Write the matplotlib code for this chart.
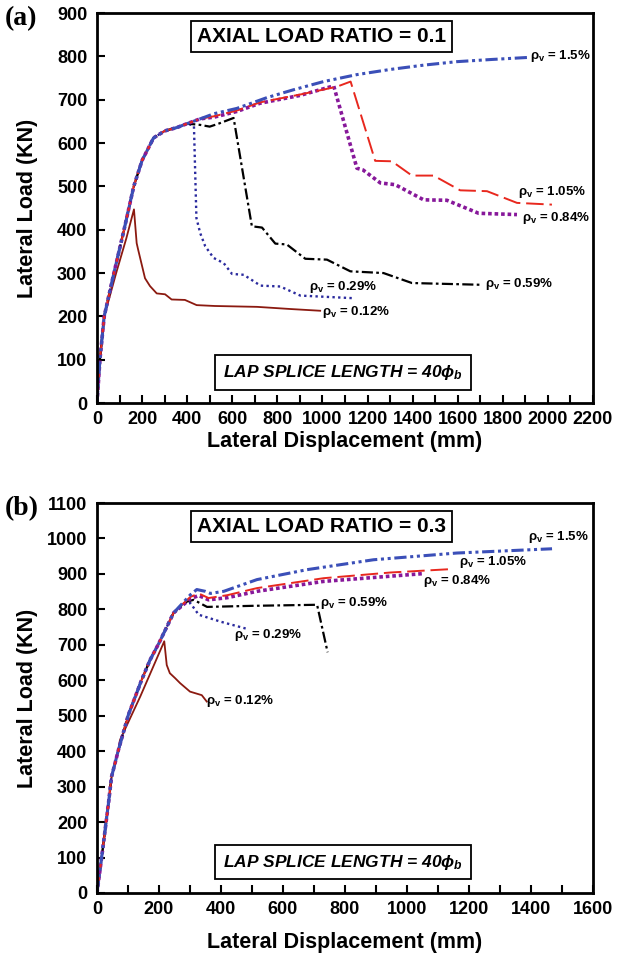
import matplotlib
matplotlib.use("Agg")
import matplotlib.pyplot as plt
from matplotlib.ticker import MultipleLocator

plt.rcParams['font.family'] = ['Liberation Sans', 'DejaVu Sans']
plt.rcParams['font.weight'] = 'bold'
plt.rcParams['mathtext.fontset'] = 'custom'
plt.rcParams['mathtext.rm'] = 'Liberation Sans:bold'
plt.rcParams['mathtext.it'] = 'Liberation Sans:bold:italic'
plt.rcParams['mathtext.bf'] = 'Liberation Sans:bold'

# ---- panel (a) : axial load ratio 0.1 ----
base_a_x = [0, 13, 32, 75, 120, 163, 200, 251, 300, 355, 400, 458]
base_a_y = [0, 100, 200, 300, 400, 500, 560, 612, 628, 636, 645, 656]

a15_x = base_a_x + [520, 620, 754, 871, 1005, 1152, 1301, 1450, 1597, 1750, 1922]
a15_y = base_a_y + [668, 680, 705, 723, 742, 758, 770, 780, 788, 793, 798]
a105_x = base_a_x + [520, 620, 723, 900, 1063, 1125, 1234, 1308, 1397, 1493, 1611, 1730, 1863, 2018]
a105_y = base_a_y + [662, 675, 694, 712, 730, 742, 559, 558, 525, 525, 491, 489, 462, 458]
a084_x = base_a_x + [520, 620, 723, 900, 1050, 1153, 1180, 1257, 1323, 1449, 1552, 1693, 1863]
a084_y = base_a_y + [660, 673, 692, 710, 732, 542, 538, 508, 504, 469, 468, 438, 435]
a059_x = base_a_x[:-1] + [458, 500, 540, 606, 687, 732, 791, 842, 924, 1020, 1124, 1271, 1397, 1700]
a059_y = base_a_y[:-1] + [642, 638, 645, 658, 408, 405, 368, 366, 333, 331, 304, 300, 277, 273]
a029_x = base_a_x[:-1] + [430, 441, 458, 480, 517, 562, 599, 651, 725, 813, 902, 1138]
a029_y = base_a_y[:-1] + [640, 427, 392, 362, 335, 323, 298, 296, 271, 269, 248, 242]
a012_x = [0, 13, 32, 85, 130, 164, 176, 183, 213, 235, 265, 302, 331, 390, 442, 523, 710, 858, 990]
a012_y = [0, 100, 200, 300, 380, 447, 369, 353, 288, 270, 253, 251, 239, 238, 226, 224, 222, 217, 213]

# ---- panel (b) : axial load ratio 0.3 ----
base_b_x = [0, 15, 37, 47, 69, 101, 144, 171, 200, 247]
base_b_y = [0, 100, 253, 328, 403, 502, 601, 657, 705, 790]

b15_x = base_b_x + [301, 322, 349, 366, 409, 516, 677, 892, 1161, 1468]
b15_y = base_b_y + [841, 856, 851, 845, 851, 884, 912, 940, 959, 971]
b105_x = base_b_x + [301, 328, 360, 420, 516, 731, 946, 1150]
b105_y = base_b_y + [835, 845, 832, 840, 860, 888, 904, 914]
b084_x = base_b_x + [301, 328, 360, 420, 516, 731, 1054]
b084_y = base_b_y + [830, 839, 827, 833, 851, 879, 901]
b059_x = base_b_x + [290, 312, 355, 500, 710, 744]
b059_y = base_b_y + [822, 827, 807, 810, 813, 679]
b029_x = base_b_x + [280, 301, 328, 400, 484]
b029_y = base_b_y + [815, 818, 785, 765, 745]
b012_x = [0, 15, 37, 47, 69, 74, 140, 217, 225, 235, 252, 268, 300, 338, 354]
b012_y = [0, 100, 253, 328, 403, 431, 555, 710, 643, 620, 606, 592, 568, 558, 540]

labels = ['1.5%', '1.05%', '0.84%', '0.59%', '0.29%', '0.12%']
label_pos_a = [(1922, 801), (1866, 486), (1885, 427), (1722, 275), (939, 268), (998, 210)]
label_pos_b = [(1392, 1004), (1169, 933), (1051, 881), (720, 818), (441, 729), (353, 542)]

styles = [
    dict(color='#3b4fb8', lw=2.2, ls=(0, (4, 1.2, 1, 1.2, 1, 1.2))),
    dict(color='#e8281e', lw=1.4, ls=(0, (9, 3))),
    dict(color='#87189a', lw=2.6, ls=(0, (1, 0.8))),
    dict(color='black', lw=1.6, ls=(0, (5, 1.5, 1.2, 1.5))),
    dict(color='#2b2b9e', lw=1.7, ls=(0, (1, 1.4))),
    dict(color='#8b1a10', lw=1.3, ls='-'),
]


def draw_panel(ax, curves, label_pos, xmax, ymax, ratio, tag):
    # failing curves first so the blue envelope stays on top
    for (xs, ys), st in list(zip(curves, styles))[::-1]:
        ax.plot(xs, ys, **st)
    for lab, (lx, ly) in zip(labels, label_pos):
        ax.text(lx, ly, r'$\mathrm{\rho_v}$ = ' + lab, fontsize=9.5, fontweight='bold',
                ha='left', va='center')

    ax.set_xlim(0, xmax)
    ax.set_ylim(0, ymax)
    ax.xaxis.set_major_locator(MultipleLocator(200))
    ax.xaxis.set_minor_locator(MultipleLocator(100))
    ax.yaxis.set_major_locator(MultipleLocator(100))
    ax.tick_params(axis='both', which='both', direction='in', length=6, width=1.5,
                   labelsize=13, top=False, right=False)
    ax.tick_params(axis='x', pad=6)
    ax.tick_params(axis='y', pad=7)
    for lbl in ax.get_xticklabels() + ax.get_yticklabels():
        lbl.set_fontweight('bold')
    for sp in ax.spines.values():
        sp.set_linewidth(2)

    ax.set_xlabel('Lateral Displacement (mm)', fontsize=15.5, fontweight='bold')
    ax.set_ylabel('Lateral Load (KN)', fontsize=15.5, fontweight='bold')

    ax.text(0.453, 0.94, 'AXIAL LOAD RATIO = ' + ratio, transform=ax.transAxes,
            fontsize=15, fontweight='bold', ha='center', va='center',
            bbox=dict(boxstyle='square,pad=0.3', fc='white', ec='black', lw=1.3))
    ax.text(0.496, 0.079, r'LAP SPLICE LENGTH = 40$\phi_b$', transform=ax.transAxes,
            fontsize=12.5, fontweight='bold', fontstyle='italic', ha='center', va='center',
            bbox=dict(boxstyle='square,pad=0.45', fc='white', ec='black', lw=1.3))
    ax.text(-0.185, 0.985, tag, transform=ax.transAxes, fontsize=20, fontweight='bold',
            family='Liberation Serif', ha='left', va='center')


fig = plt.figure(figsize=(6.27, 9.58), dpi=100)
ax_a = fig.add_axes([0.1547, 0.5793, 0.791, 0.407])
ax_b = fig.add_axes([0.1547, 0.0679, 0.791, 0.407])

curves_a = [(a15_x, a15_y), (a105_x, a105_y), (a084_x, a084_y),
            (a059_x, a059_y), (a029_x, a029_y), (a012_x, a012_y)]
curves_b = [(b15_x, b15_y), (b105_x, b105_y), (b084_x, b084_y),
            (b059_x, b059_y), (b029_x, b029_y), (b012_x, b012_y)]

draw_panel(ax_a, curves_a, label_pos_a, 2200, 900, '0.1', '(a)')
draw_panel(ax_b, curves_b, label_pos_b, 1600, 1100, '0.3', '(b)')

ax_a.yaxis.set_label_coords(-0.118, 0.5)
ax_a.xaxis.set_label_coords(0.5, -0.072)
ax_b.yaxis.set_label_coords(-0.118, 0.5)
ax_b.xaxis.set_label_coords(0.5, -0.1)

fig.savefig('out.png', dpi=100)
